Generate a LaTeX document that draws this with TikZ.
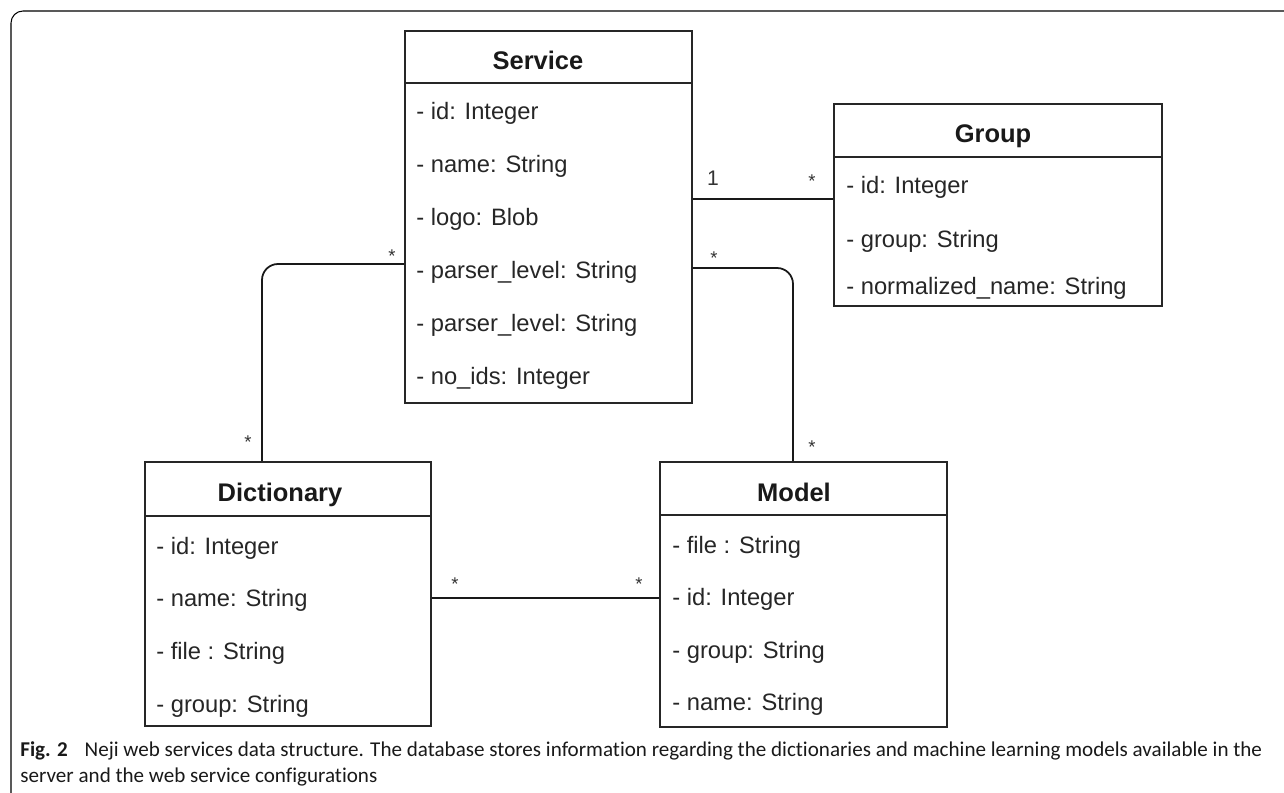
\documentclass[tikz,border=0pt]{standalone}
\usepackage{fontspec}
\setmainfont{Liberation Sans}
\newfontfamily\capfont[Ligatures=NoCommon]{Carlito}
\usetikzlibrary{calc}
\begin{document}
\begin{tikzpicture}[x=0.02cm,y=-0.02cm,
  classbox/.style={draw=black!85,line width=1pt,anchor=north west,inner sep=0pt,fill=white},
  divline/.style={draw=black!85,line width=1pt},
  conn/.style={draw=black!90,line width=1pt},
  frameline/.style={draw=black,line width=0.6pt,rounded corners=0.24cm},
  title/.style={anchor=base,inner sep=0pt,font=\fontsize{14.5}{16}\selectfont\bfseries,text=black!90},
  attr/.style={anchor=base west,inner sep=0pt,font=\fontsize{13.5}{16}\selectfont,text=black!85},
  mult/.style={anchor=base,inner sep=0pt,font=\fontsize{10.5}{11}\selectfont,text=black!80},
  caption/.style={anchor=base west,inner sep=0pt,align=left,font=\capfont\fontsize{12}{14.7}\selectfont,text=black!90}
]
\useasboundingbox (0,0) rectangle (1284,793);
% frame
\coordinate (fbl) at (11,793);
\coordinate (ftl) at (11,11);
\coordinate (ftr) at (1284,11);
\draw[frameline] (fbl) -- (ftl) -- (ftr);

% class boxes
\node[classbox,minimum width=5.74cm,minimum height=7.44cm] (service) at (404,30) {};
\node[classbox,minimum width=6.56cm,minimum height=4.04cm] (group) at (833,103) {};
\node[classbox,minimum width=5.72cm,minimum height=5.28cm] (dict) at (144,461) {};
\node[classbox,minimum width=5.74cm,minimum height=5.30cm] (model) at (659,461) {};

% dividers
\draw[divline] ($(service.north west)+(0,53)$) -- ($(service.north east)+(0,53)$);
\draw[divline] ($(group.north west)+(0,54)$) -- ($(group.north east)+(0,54)$);
\draw[divline] ($(dict.north west)+(0,55)$) -- ($(dict.north east)+(0,55)$);
\draw[divline] ($(model.north west)+(0,54)$) -- ($(model.north east)+(0,54)$);

% Service
\node[title] (st) at (538,70) {Service};
\node[attr] (s1) at (416,120) {- id: Integer};
\node[attr] (s2) at (416,173) {- name: String};
\node[attr] (s3) at (416,226) {- logo: Blob};
\node[attr] (s4) at (416,279) {- parser\_level: String};
\node[attr] (s5) at (416,332) {- parser\_level: String};
\node[attr] (s6) at (416,385) {- no\_ids: Integer};

% Group
\node[title] (gt) at (993,143) {Group};
\node[attr] (g1) at (846,194) {- id: Integer};
\node[attr] (g2) at (846,248) {- group: String};
\node[attr] (g3) at (846,295) {- normalized\_name: String};

% Dictionary
\node[title] (dt) at (280,501) {Dictionary};
\node[attr] (d1) at (156,554) {- id: Integer};
\node[attr] (d2) at (156,606) {- name: String};
\node[attr] (d3) at (156,659) {- file : String};
\node[attr] (d4) at (156,712) {- group: String};

% Model
\node[title] (mt) at (794,501) {Model};
\node[attr] (m1) at (672,553) {- file : String};
\node[attr] (m2) at (672,605) {- id: Integer};
\node[attr] (m3) at (672,658) {- group: String};
\node[attr] (m4) at (672,710) {- name: String};

% connector helper coordinates
\coordinate (sg) at (0,199);
\coordinate (sd) at (0,264);
\coordinate (dx) at (262,0);
\coordinate (sm) at (0,268);
\coordinate (mx) at (793,0);
\coordinate (dm) at (0,598);

% connectors
\draw[conn] (service.east |- sg) -- (group.west |- sg);
\draw[conn,rounded corners=0.32cm] (service.west |- sd) -| (dict.north -| dx);
\draw[conn,rounded corners=0.32cm] (service.east |- sm) -| (model.north -| mx);
\draw[conn] (dict.east |- dm) -- (model.west |- dm);

% multiplicities
\node[mult,font=\fontsize{12}{13}\selectfont] (l1) at (713,186) {1};
\node[mult] (l2) at (812,188) {*};
\node[mult] (l3) at (392,263) {*};
\node[mult] (l4) at (248,449) {*};
\node[mult] (l5) at (714,265) {*};
\node[mult] (l6) at (812,454) {*};
\node[mult] (l7) at (455,590) {*};
\node[mult] (l8) at (639,590) {*};

% caption
\node[caption] (cap) at (20,782) {{\bfseries Fig. 2}\hspace{0.8em}Neji web services data structure. The database stores information regarding the dictionaries and machine learning models available in the\\server and the web service configurations};
\end{tikzpicture}
\end{document}
